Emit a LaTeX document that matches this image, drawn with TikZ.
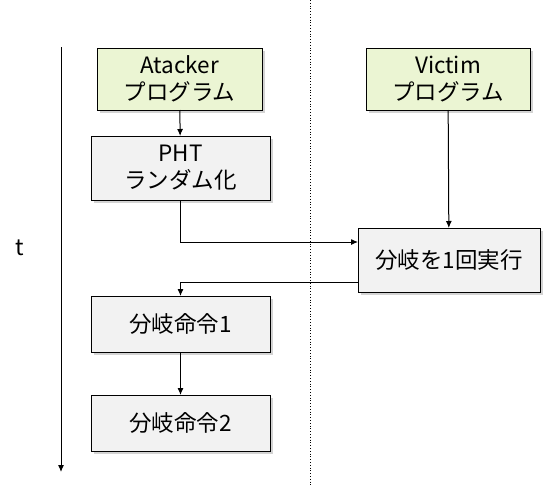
\documentclass[tikz,border=0pt]{standalone}
\usepackage{fontspec}
\setmainfont{Noto Sans CJK JP}
\usetikzlibrary{arrows.meta,shadows}
\definecolor{progfill}{RGB}{235,245,211}
\definecolor{stepfill}{RGB}{242,242,242}
\begin{document}
\begin{tikzpicture}
[x=1pt, y=-1pt,
 box/.style={rectangle, draw=black, line width=1pt, inner sep=0pt, outer sep=0pt,
   align=center, font=\fontsize{22.5}{27}\selectfont,
   drop shadow={shadow xshift=2.5pt, shadow yshift=-2.5pt, opacity=0.35}},
 prog/.style={box, fill=progfill, minimum width=165pt, minimum height=62pt},
 stepbox/.style={box, fill=stepfill, minimum width=179pt},
 flow/.style={line width=1pt, -{Latex[length=7pt,width=6pt]}},
]
\useasboundingbox (0,0) rectangle (550,485);

%divider
\draw[dotted, line width=0.8pt] (310,0) -- (310,485);

%time axis
\coordinate (t0) at (61,47);
\coordinate (t1) at (61,472);
\draw[flow] (t0) -- (t1);
\node (tlabel) at (20,248) {\fontsize{22.5}{27}\selectfont t};

%Atacker
\node[prog] (atk) at (179.5,79) {Atacker\\プログラム};
\node[stepbox, minimum height=64pt] (pht) at (180.5,168) {PHT\\ランダム化};

%Victim
\node[prog, minimum width=164pt] (vic) at (448,79) {Victim\\プログラム};
\node[stepbox, minimum width=182pt, minimum height=64pt] (exec) at (449,260) {分岐を1回実行};

%branches
\node[stepbox, minimum height=56pt] (br1) at (180.5,324) {分岐命令1};
\node[stepbox, minimum height=56pt] (br2) at (180.5,423) {分岐命令2};

%arrows
\draw[flow] (atk) -- (pht);
\draw[flow] (vic) -- (exec);
\draw[flow] (pht.south) |- ([yshift=18pt]exec.west);
\draw[flow] ([yshift=-22pt]exec.west) -| (br1.north);
\draw[flow] (br1) -- (br2);

\end{tikzpicture}
\end{document}
